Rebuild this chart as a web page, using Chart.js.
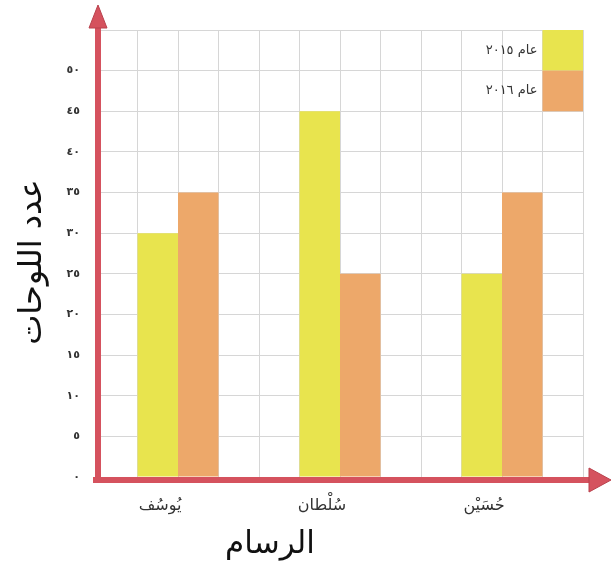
<!DOCTYPE html>
<html lang="ar">
<head>
<meta charset="utf-8">
<script src="https://cdn.jsdelivr.net/npm/chart.js@4.4.1/dist/chart.umd.min.js"></script>
<style>
  html, body { margin: 0; padding: 0; background: #ffffff; }
  canvas { display: block; }
</style>
</head>
<body>
<canvas id="c" width="611" height="580"></canvas>
<script>
// Paintings per painter, by year
const painters = ['يُوسُف', 'سُلْطان', 'حُسَيْن'];
const paintings2015 = [30, 45, 25];
const paintings2016 = [35, 25, 35];
const seriesLabels = ['عام ٢٠١٥', 'عام ٢٠١٦'];
const yTickLabels = ['٠', '٥', '١٠', '١٥', '٢٠', '٢٥', '٣٠', '٣٥', '٤٠', '٤٥', '٥٠'];
const yTitle = 'عدد اللوحات';
const xTitle = 'الرسام';

const YELLOW = '#e8e44e';
const ORANGE = '#eda86a';
const AXIS_RED = '#d5525e';
const GRID = '#d6d6d6';
const FONT = '"DejaVu Sans", sans-serif';

// Red axis arrows, the in-plot legend and the axis titles
const decorations = {
  id: 'decorations',
  afterDraw(chart) {
    const { ctx, chartArea: a, scales } = chart;
    ctx.save();

    // legend boxes in the last grid column
    const gx = scales.xg, y = scales.y;
    const colors = [YELLOW, ORANGE];
    seriesLabels.forEach((lab, i) => {
      const top = y.getPixelForValue(55 - 5 * i);
      const bot = y.getPixelForValue(50 - 5 * i);
      const l = gx.getPixelForValue(11), r = gx.getPixelForValue(12);
      ctx.fillStyle = colors[i];
      ctx.fillRect(l, top, r - l, bot - top);
      ctx.fillStyle = '#333';
      ctx.font = '13px ' + FONT;
      ctx.textAlign = 'right';
      ctx.textBaseline = 'middle';
      ctx.direction = 'rtl';
      ctx.fillText(lab, l - 5, (top + bot) / 2);
    });
    ctx.direction = 'ltr';

    // y axis arrow
    const ax = a.left + 1;
    const base = a.bottom + 3;
    ctx.fillStyle = AXIS_RED;
    ctx.strokeStyle = '#b9414d';
    ctx.lineWidth = 1;
    ctx.fillRect(ax - 3, 26, 6, base - 26 + 3);
    ctx.beginPath();
    ctx.moveTo(ax - 9, 28);
    ctx.lineTo(ax + 9, 28);
    ctx.lineTo(ax, 5);
    ctx.closePath();
    ctx.fill();
    ctx.stroke();

    // x axis arrow
    ctx.fillRect(ax - 5, base - 3, 592 - (ax - 5), 6);
    ctx.beginPath();
    ctx.moveTo(589, base - 12);
    ctx.lineTo(589, base + 12);
    ctx.lineTo(611, base);
    ctx.closePath();
    ctx.fill();
    ctx.stroke();

    // axis titles
    ctx.fillStyle = '#111';
    ctx.textAlign = 'center';
    ctx.textBaseline = 'middle';
    ctx.font = '31px ' + FONT;
    ctx.fillText(xTitle, 270, 545);
    ctx.font = '32px ' + FONT;
    ctx.translate(33, 262);
    ctx.rotate(-Math.PI / 2);
    ctx.fillText(yTitle, 0, 0);
    ctx.restore();
  }
};

new Chart(document.getElementById('c'), {
  type: 'bar',
  data: {
    labels: painters,
    datasets: [
      { label: seriesLabels[0], data: paintings2015, backgroundColor: YELLOW },
      { label: seriesLabels[1], data: paintings2016, backgroundColor: ORANGE }
    ]
  },
  options: {
    responsive: false,
    animation: false,
    layout: { padding: { top: 30, right: 28, left: 0, bottom: 0 } },
    datasets: { bar: { categoryPercentage: 0.5, barPercentage: 1.0, borderWidth: 0 } },
    plugins: { legend: { display: false }, tooltip: { enabled: false } },
    scales: {
      x: {
        position: 'bottom',
        grid: { display: false },
        border: { display: false },
        ticks: {
          color: '#333',
          font: { family: FONT, size: 16 },
          padding: 11,
          labelOffset: -18,
          maxRotation: 0
        },
        afterFit(s) { s.height = 103; }
      },
      xg: {
        type: 'linear',
        position: 'top',
        offset: false,
        min: 0,
        max: 12,
        grid: { color: GRID, lineWidth: 1, drawTicks: false, offset: false },
        border: { display: false },
        ticks: { display: false, stepSize: 1 },
        afterFit(s) { s.height = 0; }
      },
      y: {
        min: 0,
        max: 55,
        grid: { color: GRID, lineWidth: 1, drawTicks: false },
        border: { display: false },
        ticks: {
          stepSize: 5,
          color: '#333',
          padding: 17,
          font: { family: FONT, size: 11, weight: 'bold' },
          callback: (v) => yTickLabels[v / 5] ?? ''
        },
        afterFit(s) { s.width = 97; }
      }
    }
  },
  plugins: [decorations]
});
</script>
</body>
</html>
